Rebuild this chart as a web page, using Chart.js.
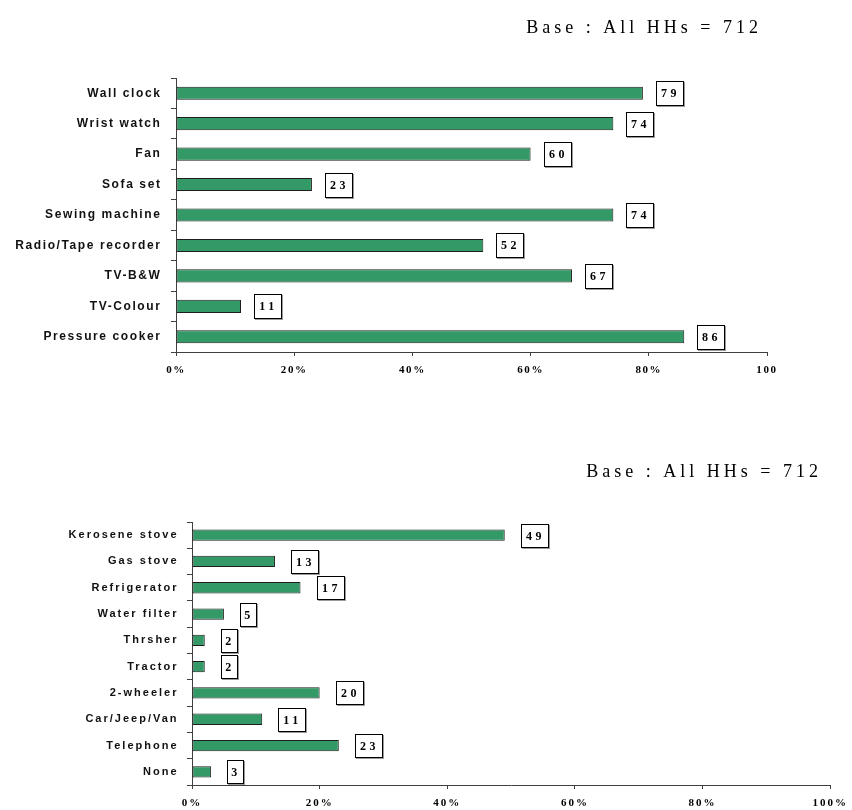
<!DOCTYPE html>
<html>
<head>
<meta charset="utf-8">
<script src="https://cdn.jsdelivr.net/npm/chart.js@4.4.0/dist/chart.umd.min.js"></script>
<style>
  html, body { margin: 0; padding: 0; background: #fff; }
  .panel { position: absolute; left: 0; width: 852px; height: 405px; }
  #top { top: 0; }
  #bottom { top: 405px; }
</style>
</head>
<body>
<div class="panel" id="top"><canvas id="c1" width="852" height="405"></canvas></div>
<div class="panel" id="bottom"><canvas id="c2" width="852" height="405"></canvas></div>
<script>
// durables owned (% of HHs)
const ownCats = ["Wall clock", "Wrist watch", "Fan", "Sofa set", "Sewing machine",
  "Radio/Tape recorder", "TV-B&W", "TV-Colour", "Pressure cooker"];
const ownVals = [79, 74, 60, 23, 74, 52, 67, 11, 86];
const ownTicks = ["0%", "20%", "40%", "60%", "80%", "100"];

const moreCats = ["Kerosene stove", "Gas stove", "Refrigerator", "Water filter", "Thrsher",
  "Tractor", "2-wheeler", "Car/Jeep/Van", "Telephone", "None"];
const moreVals = [49, 13, 17, 5, 2, 2, 20, 11, 23, 3];
const moreTicks = ["0%", "20%", "40%", "60%", "80%", "100%"];

const baseText = "Base : All HHs = 712";

const GREEN = "#339966";
const AXIS = "#404040";

// letter spaced text like the original
const spacing = {
  id: "spacing",
  beforeDraw(chart, args, opts) {
    chart.ctx.letterSpacing = opts.px + "px";
  }
};

// boxed value next to each bar + base note
const boxLabels = {
  id: "boxLabels",
  afterDatasetsDraw(chart, args, opts) {
    const ctx = chart.ctx;
    const meta = chart.getDatasetMeta(0);
    ctx.save();
    ctx.letterSpacing = "3.5px";
    ctx.font = 'bold 12px "Liberation Serif"';
    ctx.lineWidth = 1;
    meta.data.forEach((bar, i) => {
      const txt = String(chart.data.datasets[0].data[i]);
      const w = txt.length > 1 ? 27 : 16;
      const h = opts.h;
      const x = Math.round(bar.x + opts.gap) + 0.5;
      const y = Math.round(bar.y - h / 2) + 0.5;
      ctx.strokeStyle = "#9a9a9a";
      ctx.strokeRect(x + 1, y + 1, w, h);
      ctx.fillStyle = "#fff";
      ctx.fillRect(x, y, w, h);
      ctx.strokeStyle = "#000";
      ctx.strokeRect(x, y, w, h);
      ctx.fillStyle = "#000";
      ctx.textAlign = "center";
      ctx.textBaseline = "middle";
      ctx.fillText(txt, x + w / 2 + 0.5, y + h / 2 + 0.5);
    });
    ctx.restore();
  },
  afterDraw(chart, args, opts) {
    const ctx = chart.ctx;
    ctx.save();
    ctx.letterSpacing = "4px";
    ctx.font = '18px "Liberation Serif"';
    ctx.fillStyle = "#000";
    ctx.textAlign = "right";
    ctx.textBaseline = "alphabetic";
    ctx.fillText(baseText, opts.titleX, opts.titleY);
    ctx.restore();
  }
};

function makeChart(id, cats, vals, ticks, cfg) {
  const H = 405, W = 852;
  return new Chart(document.getElementById(id), {
    type: "bar",
    data: {
      labels: cats,
      datasets: [{
        data: vals,
        backgroundColor: GREEN,
        borderColor: "#1e1e1e",
        borderWidth: 1,
        borderSkipped: false,
        barPercentage: 0.43,
        categoryPercentage: 1
      }]
    },
    options: {
      indexAxis: "y",
      responsive: false,
      animation: false,
      layout: {
        padding: { left: 0, top: cfg.top, right: W - cfg.right, bottom: 0 }
      },
      scales: {
        x: {
          min: 0,
          max: 100,
          afterFit(scale) { scale.height = H - cfg.bottom; },
          afterBuildTicks(scale) {
            scale.ticks = [0, 20, 40, 60, 80, 100].map(v => ({ value: v }));
          },
          ticks: {
            callback: (v) => ticks[v / 20],
            color: "#000",
            padding: 8,
            maxRotation: 0,
            autoSkip: false,
            font: { family: "Liberation Serif", size: 11, weight: "bold" }
          },
          grid: { drawOnChartArea: false, drawTicks: true, tickLength: 4, color: AXIS },
          border: { color: AXIS, width: 1 }
        },
        y: {
          afterFit(scale) { scale.width = cfg.left; },
          ticks: {
            color: "#111",
            padding: cfg.labelPad,
            autoSkip: false,
            font: { family: "Liberation Sans", size: cfg.labelSize, weight: "bold" }
          },
          grid: { drawOnChartArea: false, drawTicks: true, tickLength: 5, color: AXIS, offset: true },
          border: { color: AXIS, width: 1 }
        }
      },
      plugins: {
        legend: { display: false },
        tooltip: { enabled: false },
        spacing: { px: cfg.spacing },
        boxLabels: { gap: cfg.gap, h: cfg.boxH, titleX: cfg.titleX, titleY: cfg.titleY }
      }
    },
    plugins: [spacing, boxLabels]
  });
}

makeChart("c1", ownCats, ownVals, ownTicks, {
  left: 176, top: 78, right: 767, bottom: 352,
  labelSize: 12, labelPad: 9.5, spacing: 1.6,
  gap: 13, boxH: 24, titleX: 762, titleY: 33
});

makeChart("c2", moreCats, moreVals, moreTicks, {
  left: 192, top: 117, right: 833, bottom: 380,
  labelSize: 11, labelPad: 8.5, spacing: 2.0,
  gap: 16, boxH: 23, titleX: 822, titleY: 72
});
</script>
</body>
</html>
